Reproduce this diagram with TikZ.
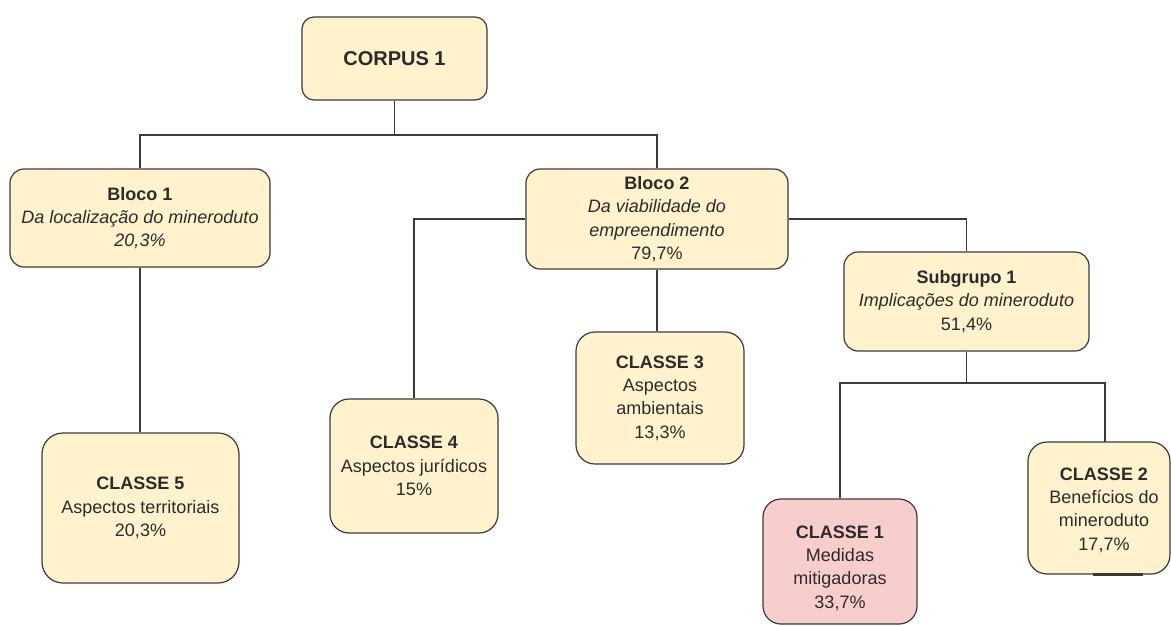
\documentclass[tikz,border=0pt]{standalone}
\usepackage{fontspec}
\setmainfont{Liberation Sans}
\definecolor{boxfill}{HTML}{FFF2CC}
\definecolor{pinkfill}{HTML}{F8CECC}
\definecolor{boxline}{HTML}{3A3A3A}
\definecolor{textc}{HTML}{2B2B2B}
\tikzset{
  box/.style={draw=boxline, fill=boxfill, line width=1.2pt, align=center,
    text=textc, inner sep=0pt, font=\fontsize{18}{23.3}\selectfont},
  lbl/.style={align=center, text=textc, inner sep=0pt, font=\fontsize{18}{23.3}\selectfont},
  wire/.style={draw=boxline, line width=1.2pt}
}
\begin{document}
\begin{tikzpicture}[x=1pt, y=-1pt]
\useasboundingbox (0,0) rectangle (1171,625);
% nodes
\node[box, minimum width=185pt, minimum height=83pt, rounded corners=12pt,
  font=\fontsize{20}{24}\selectfont\bfseries] (corpus) at (394.5,58.5) {CORPUS 1};
\node[box, minimum width=260pt, minimum height=98pt, rounded corners=14pt] (bloco1) at (140,218)
  {\textbf{Bloco 1}\\\textit{Da localização do mineroduto}\\\textit{20,3\%}};
\node[box, minimum width=262pt, minimum height=100pt, rounded corners=14pt] (bloco2) at (657,219)
  {\textbf{Bloco 2}\\\textit{Da viabilidade do}\\\textit{empreendimento}\\79,7\%};
\node[box, minimum width=245pt, minimum height=99pt, rounded corners=14pt] (sub1) at (966.5,301.5)
  {\textbf{Subgrupo 1}\\\textit{Implicações do mineroduto}\\51,4\%};
\node[box, minimum width=168pt, minimum height=132pt, rounded corners=19pt] (c3) at (660,398)
  {\textbf{CLASSE 3}\\Aspectos\\ambientais\\13,3\%};
\node[box, minimum width=168pt, minimum height=134pt, rounded corners=19pt] (c4) at (414,466)
  {\textbf{CLASSE 4}\\Aspectos jurídicos\\15\%};
\node[box, minimum width=197pt, minimum height=150pt, rounded corners=21pt] (c5) at (140.5,508)
  {\textbf{CLASSE 5}\\Aspectos territoriais\\20,3\%};
\node[box, fill=pinkfill, minimum width=154pt, minimum height=125pt, rounded corners=18pt] (c1) at (840,561.5) {};
\node[lbl] (c1t) at (840,568) {\textbf{CLASSE 1}\\Medidas\\mitigadoras\\33,7\%};
\node[box, minimum width=142pt, minimum height=132pt, rounded corners=19pt] (c2) at (1099,508) {};
\node[lbl] (c2t) at (1104,510) {\textbf{CLASSE 2}\\Benefícios do\\mineroduto\\17,7\%};
% connectors
\coordinate (j0) at (394.5,135);
\coordinate (j1) at (966.5,383);
\coordinate (c2top) at (1105,442);
\draw[wire] (corpus.south) -- (j0);
\draw[wire] (bloco1.north) |- (j0) -| (bloco2.north);
\draw[wire] (bloco1.south) -- (bloco1.south |- c5.north);
\draw[wire] (bloco2.west) -| (c4.north);
\draw[wire] (bloco2.south) -- (bloco2.south |- c3.north);
\draw[wire] (bloco2.east) -| (sub1.north);
\draw[wire] (sub1.south) -- (j1);
\draw[wire] (c1.north) |- (j1) -| (c2top);
\draw[boxline, line width=2.6pt] ([xshift=-6pt]c2.south) -- ([xshift=44pt]c2.south);
\end{tikzpicture}
\end{document}
